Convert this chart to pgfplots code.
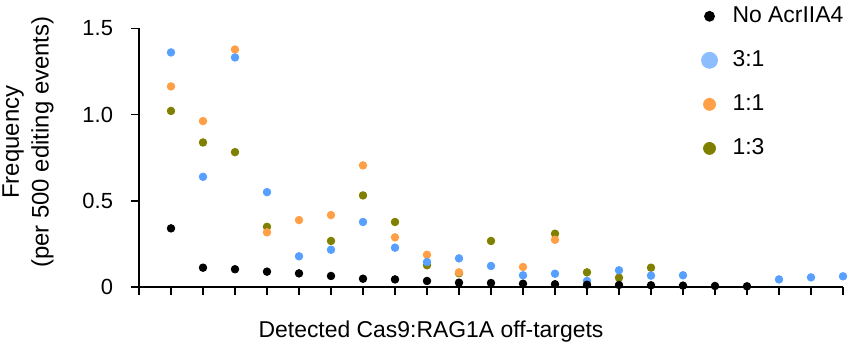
\documentclass[border=0pt]{standalone}
\usepackage{pgfplots}
\pgfplotsset{compat=1.18}
\usetikzlibrary{calc}
\usepackage{fontspec}
\setmainfont{Liberation Sans}
\definecolor{cblue}{RGB}{87,160,255}
\definecolor{cbluel}{RGB}{140,190,255}
\definecolor{corange}{RGB}{255,160,70}
\definecolor{colive}{RGB}{128,128,0}
\begin{document}
\begin{tikzpicture}
\begin{axis}[
  scale only axis, width=352bp, height=129.35bp,
  xmin=0, xmax=22, ymin=0, ymax=1.5,
  axis lines*=left,
  axis line style={draw=black, line width=0.8bp, -},
  every tick/.style={draw=black, line width=0.8bp},
  major tick length=4bp, tick align=outside,
  xtick={0,...,22}, xticklabels={},
  ytick={0,0.5,1,1.5}, yticklabels={0,0.5,1.0,1.5},
  ticklabel style={font=\fontsize{11}{13}\selectfont},
  yticklabel style={xshift=-5.5bp},
  clip=false,
  xlabel={Detected Cas9:RAG1A off-targets},
  xlabel style={at={($(rel axis cs:0.4148,0)+(0,-22.5bp)$)}, anchor=center,
    font=\fontsize{11.5}{13.5}\selectfont},
  ylabel={Frequency\\(per 500 editing events)},
  ylabel style={align=center, at={($(rel axis cs:0,0.56)+(-55.5bp,0)$)}, anchor=center,
    rotate=0, font=\fontsize{12}{15}\selectfont},
  legend style={draw=none, fill=none, at={(rel axis cs:0.79,1.115)}, anchor=north west,
    row sep=8.6bp, font=\fontsize{11.5}{13.5}\selectfont,
    /tikz/every odd column/.append style={column sep=5.5bp}},
  legend cell align=left,
  reverse legend,
]
\addplot[only marks, mark=*, mark size=1.9bp, color=colive,
  legend image post style={mark size=3bp}] coordinates {
(1,1.021)(2,0.838)(3,0.782)(4,0.349)(6,0.267)(7,0.531)(8,0.377)(9,0.126)(10,0.08)(11,0.267)(13,0.309)(14,0.085)(15,0.054)(16,0.112)};
\addlegendentry{1:3}
\addplot[only marks, mark=*, mark size=1.9bp, color=corange,
  legend image post style={mark size=3bp}] coordinates {
(1,1.163)(2,0.962)(3,1.377)(4,0.317)(5,0.388)(6,0.417)(7,0.705)(8,0.288)(9,0.187)(10,0.085)(12,0.116)(13,0.274)};
\addlegendentry{1:1}
\addplot[only marks, mark=*, mark size=1.9bp, color=cblue,
  legend image post style={mark size=4bp, color=cbluel}] coordinates {
(1,1.36)(2,0.639)(3,1.331)(4,0.55)(5,0.178)(6,0.216)(7,0.377)(8,0.228)(9,0.145)(10,0.166)(11,0.122)(12,0.068)(13,0.077)(14,0.035)(15,0.097)(16,0.066)(17,0.068)(20,0.044)(21,0.056)(22,0.062)};
\addlegendentry{3:1}
\addplot[only marks, mark=*, mark size=1.9bp, color=black,
  legend image post style={mark size=2.5bp}] coordinates {
(1,0.34)(2,0.112)(3,0.103)(4,0.089)(5,0.079)(6,0.064)(7,0.048)(8,0.044)(9,0.035)(10,0.025)(11,0.023)(12,0.019)(13,0.016)(14,0.013)(15,0.012)(16,0.01)(17,0.008)(18,0.006)(19,0.004)};
\addlegendentry{No AcrIIA4}
\coordinate (o) at (rel axis cs:0,0);
\coordinate (t) at (rel axis cs:1,1);
\end{axis}
\pgfresetboundingbox
\path ([shift={(-69.5bp,-30bp)}]o) rectangle ([shift={(4bp,14.15bp)}]t);
\end{tikzpicture}
\end{document}
